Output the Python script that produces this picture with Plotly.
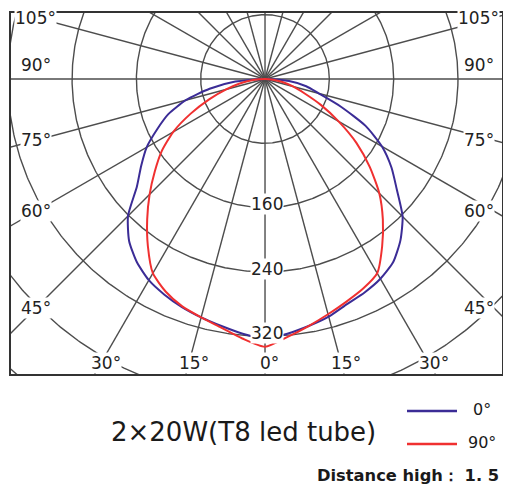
import numpy as np
import plotly.graph_objects as go

# ---------------- data ----------------
angles = [0, 5, 10, 15, 20, 25, 30, 35, 40, 45, 50, 55, 60, 65, 70, 75, 80, 85, 90]
c0_left = [323, 318, 312, 307, 302, 296, 289, 278, 263, 241, 208, 188, 170, 148, 128, 102, 70, 37, 0]
c0_right = [325, 318, 312, 306, 298, 293, 287, 278, 262, 242, 214, 192, 168, 138, 100, 69, 52, 30, 0]
c90_left = [333, 324, 314, 307, 301, 292, 279, 254, 228, 203, 179, 157, 132, 102, 74, 50, 32, 15, 0]
c90_right = [331, 322, 312, 303, 295, 288, 279, 254, 228, 201, 170, 139, 106, 77, 52, 36, 22, 10, 0]

ring_values = [80, 160, 240, 320, 400, 480]
ring_label_values = [160, 240, 320]
spoke_angles = list(range(0, 360, 15))
side_label_angles = [105, 90, 75, 60, 45]
bottom_label_angles = [-30, -15, 0, 15, 30]
series_names = ["0°", "90°"]
series_colors = ["#3b2c96", "#f03030"]
title_text = "2×20W(T8 led tube)"
note_text = "Distance high： 1. 5"

# ---------------- figure ----------------
OFF = 8                     # page offset of the figure (body margin)
W, H = 503, 481             # figure size so it fills the 511x489 window
# plot box in page pixels: x 10..503, y 12..375
ML, MT = 10 - OFF, 12 - OFF
MR, MB = W - (503 - OFF), H - (375 - OFF)
PW, PH = W - ML - MR, H - MT - MB
x_range = [-317.2, 296.0]
y_range = [-368.2, 83.3]

fig = go.Figure()

grid_line = dict(color="#4d4d4d", width=1.4)

# rings
rx, ry = [], []
t = np.linspace(0, 2 * np.pi, 721)
for v in ring_values:
    rx += list(v * np.cos(t)) + [None]
    ry += list(v * np.sin(t)) + [None]
fig.add_trace(go.Scatter(x=rx, y=ry, mode="lines", line=grid_line,
                         hoverinfo="skip", showlegend=False))

# spokes
sx, sy = [], []
for a in spoke_angles:
    ar = np.radians(a)
    sx += [0, 800 * np.sin(ar), None]
    sy += [0, -800 * np.cos(ar), None]
fig.add_trace(go.Scatter(x=sx, y=sy, mode="lines", line=grid_line,
                         hoverinfo="skip", showlegend=False))


def curve_xy(left, right):
    xs, ys = [], []
    for a, v in list(zip(angles, left))[::-1]:
        ar = np.radians(a)
        xs.append(-v * np.sin(ar))
        ys.append(-v * np.cos(ar))
    for a, v in list(zip(angles, right))[1:]:
        ar = np.radians(a)
        xs.append(v * np.sin(ar))
        ys.append(-v * np.cos(ar))
    return xs, ys


for name, col, (l, r) in zip(series_names, series_colors,
                             [(c0_left, c0_right), (c90_left, c90_right)]):
    xs, ys = curve_xy(l, r)
    fig.add_trace(go.Scatter(x=xs, y=ys, mode="lines", name=name,
                             line=dict(color=col, width=2, shape="spline", smoothing=0.6),
                             showlegend=False))

font_lbl = dict(family="DejaVu Sans", size=17, color="#222")
annotations = []

# side angle labels (same height on both sides)
d_left, d_right = 285.0, 266.0
for a in side_label_angles:
    ar = np.radians(a)
    cot = np.cos(ar) / np.sin(ar)
    ys_ = 14 if a == 90 else 0
    yy = -d_left * cot
    annotations.append(dict(x=-d_left, y=yy, text=f"{a}°", showarrow=False,
                            font=font_lbl, bgcolor="white", borderpad=0, yshift=ys_))
    annotations.append(dict(x=d_right, y=yy, text=f"{a}°", showarrow=False,
                            font=font_lbl, bgcolor="white", borderpad=0, yshift=ys_))

# bottom angle labels
d_bottom = 353.0
for a in bottom_label_angles:
    ar = np.radians(a)
    annotations.append(dict(x=d_bottom * np.tan(ar) + 6, y=-d_bottom, text=f"{abs(a)}°",
                            showarrow=False, font=font_lbl, bgcolor="white", borderpad=0))

# ring labels
for v in ring_label_values:
    annotations.append(dict(x=3, y=-v + 4, text=str(v), showarrow=False,
                            font=font_lbl, bgcolor="white", borderpad=0))


def px2paper(px, py):
    """page pixel -> paper coordinates"""
    fx, fy = px - OFF, py - OFF
    return (fx - ML) / PW, (H - MB - fy) / PH


def paper_text(px, py, text, size, bold=False, xanchor="center"):
    x, y = px2paper(px, py)
    txt = f"<b>{text}</b>" if bold else text
    return dict(xref="paper", yref="paper", x=x, y=y, text=txt, showarrow=False,
                xanchor=xanchor, yanchor="middle",
                font=dict(family="DejaVu Sans", size=size, color="#1a1a1a"))


annotations.append(paper_text(243, 432, title_text, 26))
annotations.append(paper_text(315, 475, note_text, 16.3, bold=True, xanchor="left"))

shapes = [dict(type="rect", xref="paper", yref="paper", x0=0, y0=0, x1=1, y1=1,
               line=dict(color="#333", width=2))]

# legend (manual)
for i, (name, col) in enumerate(zip(series_names, series_colors)):
    ly = 411 + 33 * i
    x0, y0 = px2paper(407, ly)
    x1, _ = px2paper(457, ly)
    shapes.append(dict(type="line", xref="paper", yref="paper", x0=x0, x1=x1, y0=y0, y1=y0,
                       line=dict(color=col, width=2.5)))
    annotations.append(paper_text(482, ly - 2, name, 16))

fig.update_layout(
    width=W, height=H,
    margin=dict(l=ML, r=MR, t=MT, b=MB, pad=0),
    paper_bgcolor="white", plot_bgcolor="white",
    xaxis=dict(range=x_range, visible=False, fixedrange=True),
    yaxis=dict(range=y_range, visible=False, fixedrange=True),
    annotations=annotations, shapes=shapes,
    showlegend=False,
)

fig.write_html("out.html")
